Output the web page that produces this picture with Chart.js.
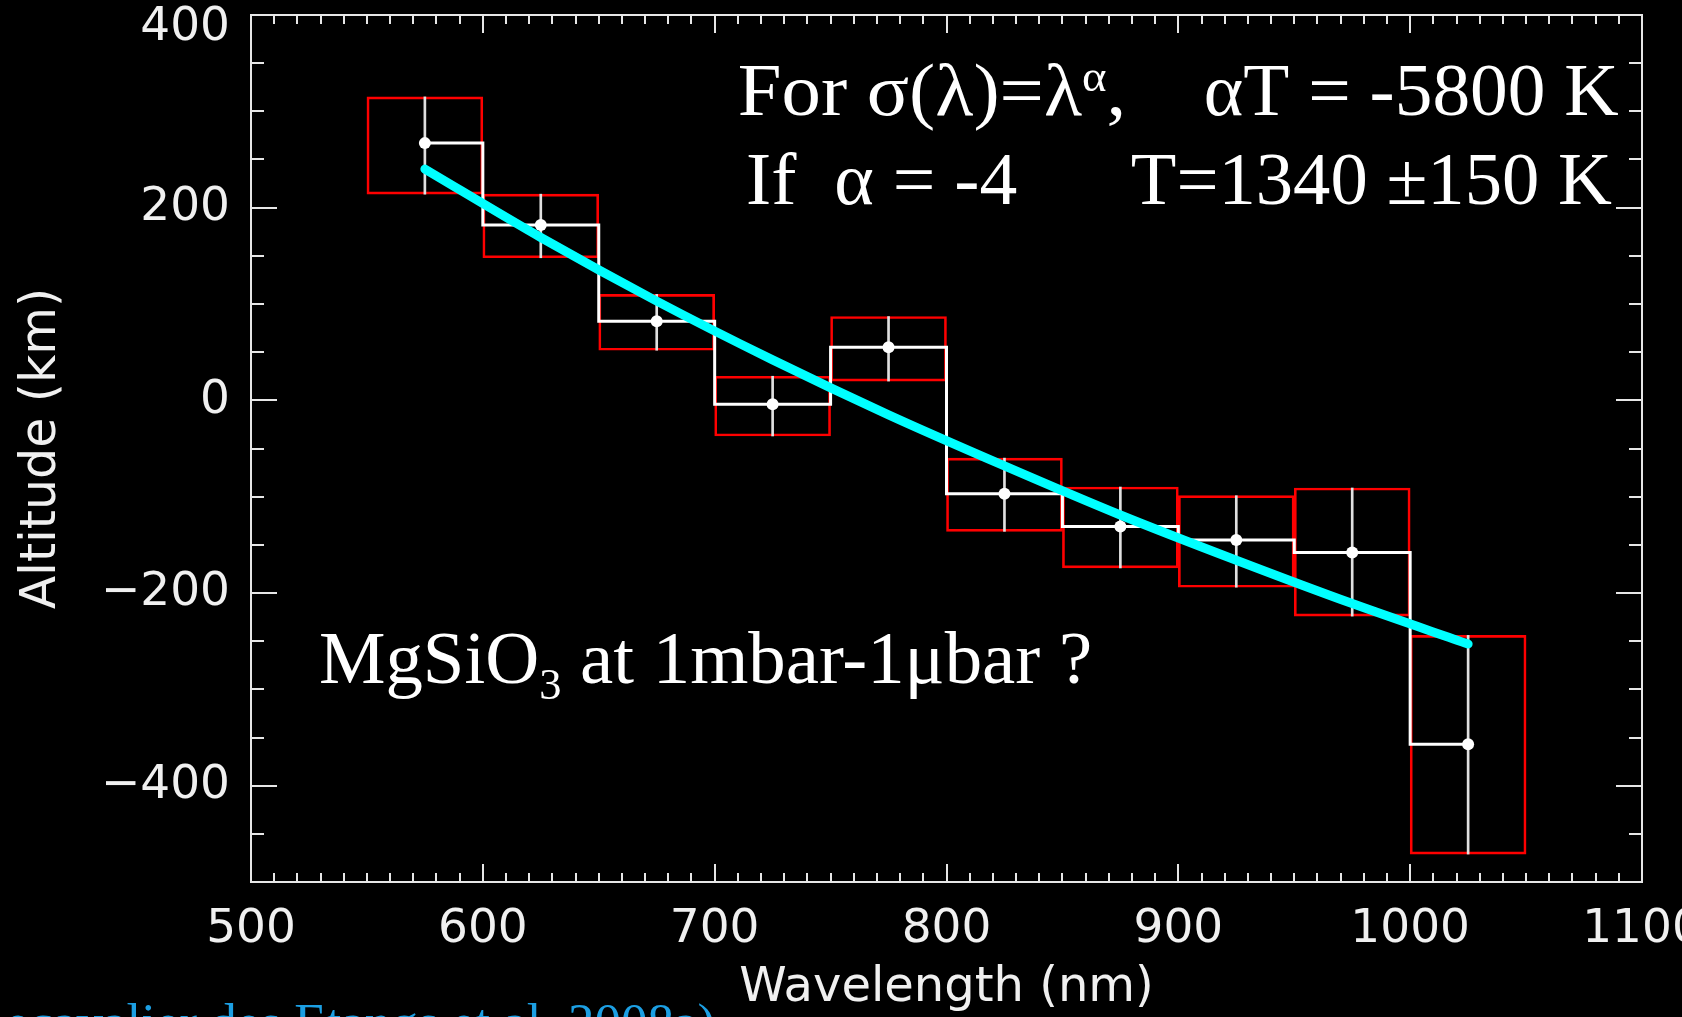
<!DOCTYPE html>
<html>
<head>
<meta charset="utf-8">
<title>Altitude vs wavelength</title>
<script src="https://cdn.jsdelivr.net/npm/chart.js@4.4.0/dist/chart.umd.min.js"></script>
<style>
  html, body { margin: 0; padding: 0; background: #000; overflow: hidden; }
  #wrap { width: 1682px; height: 1017px; }
</style>
</head>
<body>
<div id="wrap"><canvas id="altChart" width="1682" height="1017"></canvas></div>
<script>
// 50 nm bins, altitude in km
const binCenters = [575, 625, 675, 725, 775, 825, 875, 925, 975, 1025];
const altitude   = [267, 182, 82, -4, 55, -97, -131, -145, -158, -357];
const altHigh    = [315, 214, 110, 25, 87, -60, -90, -99, -91, -244];
const altLow     = [214, 148, 52, -37, 20, -136, -174, -194, -224, -471];

// fitted altitude for sigma ~ lambda^alpha
const fitWave = [575, 625, 675, 725, 775, 825, 875, 925, 975, 1025];
const fitAlt  = [240, 169, 103, 42, -15, -68, -119, -166, -211, -253];

const xTicks = [500, 600, 700, 800, 900, 1000, 1100];
const yTicks = [-400, -200, 0, 200, 400];

const AXIS = '#e6e6e6';
const LABEL = '#f0f0f0';
const SANS = '"DejaVu Sans", "Liberation Sans", sans-serif';
const SERIF = '"Liberation Serif", "Times New Roman", serif';

const boxes = binCenters.map((x, i) => ({ x, y: [altLow[i], altHigh[i]] }));
const steps = binCenters.map((x, i) => ({ x, y: altitude[i] }));
const fit = fitWave.map((x, i) => ({ x, y: fitAlt[i] }));

// box frame + inward ticks on all four sides, y labels kept inside the window
const frameTicks = {
    id: 'frameTicks',
    afterDatasetsDraw(chart) {
        const { ctx, chartArea: a, scales: { x, y } } = chart;
        ctx.save();
        ctx.strokeStyle = AXIS;
        ctx.lineWidth = 2;
        ctx.strokeRect(a.left, a.top, a.right - a.left, a.bottom - a.top);
        ctx.beginPath();
        for (let v = x.min; v <= x.max; v += 10) {
            const px = Math.round(x.getPixelForValue(v));
            const len = v % 100 === 0 ? 18 : 9;
            ctx.moveTo(px, a.bottom); ctx.lineTo(px, a.bottom - len);
            ctx.moveTo(px, a.top); ctx.lineTo(px, a.top + len);
        }
        for (let v = y.min; v <= y.max; v += 50) {
            const py = Math.round(y.getPixelForValue(v));
            const len = v % 200 === 0 ? 26 : 13;
            ctx.moveTo(a.left, py); ctx.lineTo(a.left + len, py);
            ctx.moveTo(a.right, py); ctx.lineTo(a.right - len, py);
        }
        ctx.stroke();

        ctx.fillStyle = LABEL;
        ctx.font = `47px ${SANS}`;
        ctx.textAlign = 'right';
        ctx.textBaseline = 'middle';
        yTicks.forEach(v => {
            const py = Math.max(y.getPixelForValue(v), 28);
            ctx.fillText(String(v).replace('-', '\u2212'), a.left - 21, py);
        });
        ctx.restore();
    }
};

// text squeezed to a given width; parts are [text, '' | 'sup' | 'sub']
function drawFitted(ctx, parts, left, right, baseline, size, color) {
    const fontFor = m => `${m ? Math.round(size * 0.6) : size}px ${SERIF}`;
    ctx.save();
    let w = 0;
    parts.forEach(([t, m]) => { ctx.font = fontFor(m); w += ctx.measureText(t).width; });
    ctx.translate(left, baseline);
    ctx.scale((right - left) / w, 1);
    ctx.fillStyle = color;
    ctx.textAlign = 'left';
    ctx.textBaseline = 'alphabetic';
    let cx = 0;
    parts.forEach(([t, m]) => {
        ctx.font = fontFor(m);
        const dy = m === 'sup' ? -size * 0.33 : m === 'sub' ? size * 0.21 : 0;
        ctx.fillText(t, cx, dy);
        cx += ctx.measureText(t).width;
    });
    ctx.restore();
}

const notes = {
    id: 'notes',
    afterDraw(chart) {
        const { ctx, scales: { x, y } } = chart;
        const X = v => x.getPixelForValue(v);
        const Y = v => y.getPixelForValue(v);
        drawFitted(ctx, [['For \u03c3(\u03bb)=\u03bb', ''], ['\u03b1', 'sup'], [',', '']],
            X(710), X(877.5), Y(296), 74, '#fff');
        drawFitted(ctx, [['\u03b1T = -5800 K', '']], X(911), X(1090), Y(296), 74, '#fff');
        drawFitted(ctx, [['If  \u03b1 = -4', '']], X(713.5), X(830.5), Y(204), 74, '#fff');
        drawFitted(ctx, [['T=1340 \u00b1150 K', '']], X(879.5), X(1087), Y(204), 74, '#fff');
        drawFitted(ctx, [['MgSiO', ''], ['3', 'sub'], [' at 1mbar-1\u03bcbar ?', '']],
            X(529.3), X(862.8), Y(-293.5), 74, '#fff');

        // reference line, cut by the bottom edge
        ctx.save();
        ctx.font = `53px ${SERIF}`;
        ctx.fillStyle = '#1c9fe3';
        ctx.textAlign = 'right';
        ctx.textBaseline = 'alphabetic';
        ctx.fillText('(Lecavalier des Etangs et al. 2008a)', X(700.2), Y(-664));
        ctx.restore();
    }
};

new Chart(document.getElementById('altChart'), {
    type: 'bar',
    data: {
        datasets: [
            {
                type: 'line',
                data: fit,
                borderColor: '#00ffff',
                borderWidth: 9,
                borderCapStyle: 'round',
                pointRadius: 0,
                tension: 0.3,
                order: 0
            },
            {
                type: 'line',
                data: steps,
                stepped: 'middle',
                borderColor: '#ffffff',
                borderWidth: 3,
                pointRadius: 6,
                pointBackgroundColor: '#ffffff',
                pointBorderWidth: 0,
                order: 1
            },
            {
                data: boxes,
                grouped: false,
                barThickness: 2,
                backgroundColor: '#e0e0e0',
                borderWidth: 0,
                order: 2
            },
            {
                data: boxes,
                grouped: false,
                barPercentage: 1,
                categoryPercentage: 1,
                backgroundColor: 'rgba(0,0,0,0)',
                borderColor: '#ff0000',
                borderWidth: 2,
                borderSkipped: false,
                order: 3
            }
        ]
    },
    options: {
        responsive: false,
        devicePixelRatio: 1,
        animation: false,
        layout: { padding: { top: 15, right: 40, left: 0, bottom: 0 } },
        plugins: { legend: { display: false }, tooltip: { enabled: false } },
        scales: {
            x: {
                type: 'linear',
                min: 500,
                max: 1100,
                offset: false,
                grid: { display: false, drawTicks: false, offset: false },
                border: { display: false },
                afterBuildTicks: s => { s.ticks = xTicks.map(v => ({ value: v })); },
                afterFit: s => { s.height = 135; s.paddingLeft = 0; s.paddingRight = 0; },
                ticks: {
                    color: LABEL,
                    font: { family: SANS, size: 47 },
                    padding: 20,
                    autoSkip: false,
                    maxRotation: 0,
                    callback: v => String(v)
                },
                title: {
                    display: true,
                    text: 'Wavelength (nm)',
                    color: LABEL,
                    font: { family: SANS, size: 48, lineHeight: 1.2 },
                    padding: { top: 0, bottom: 0 }
                }
            },
            y: {
                type: 'linear',
                min: -500,
                max: 400,
                grid: { display: false, drawTicks: false },
                border: { display: false },
                afterBuildTicks: s => { s.ticks = yTicks.map(v => ({ value: v })); },
                afterFit: s => { s.width = 251; s.paddingTop = 0; s.paddingBottom = 0; },
                ticks: { display: false },
                title: {
                    display: true,
                    text: 'Altitude (km)',
                    color: LABEL,
                    font: { family: SANS, size: 49, lineHeight: 1.2 },
                    padding: { top: 13, bottom: 0 }
                }
            }
        }
    },
    plugins: [frameTicks, notes]
});
</script>
</body>
</html>
